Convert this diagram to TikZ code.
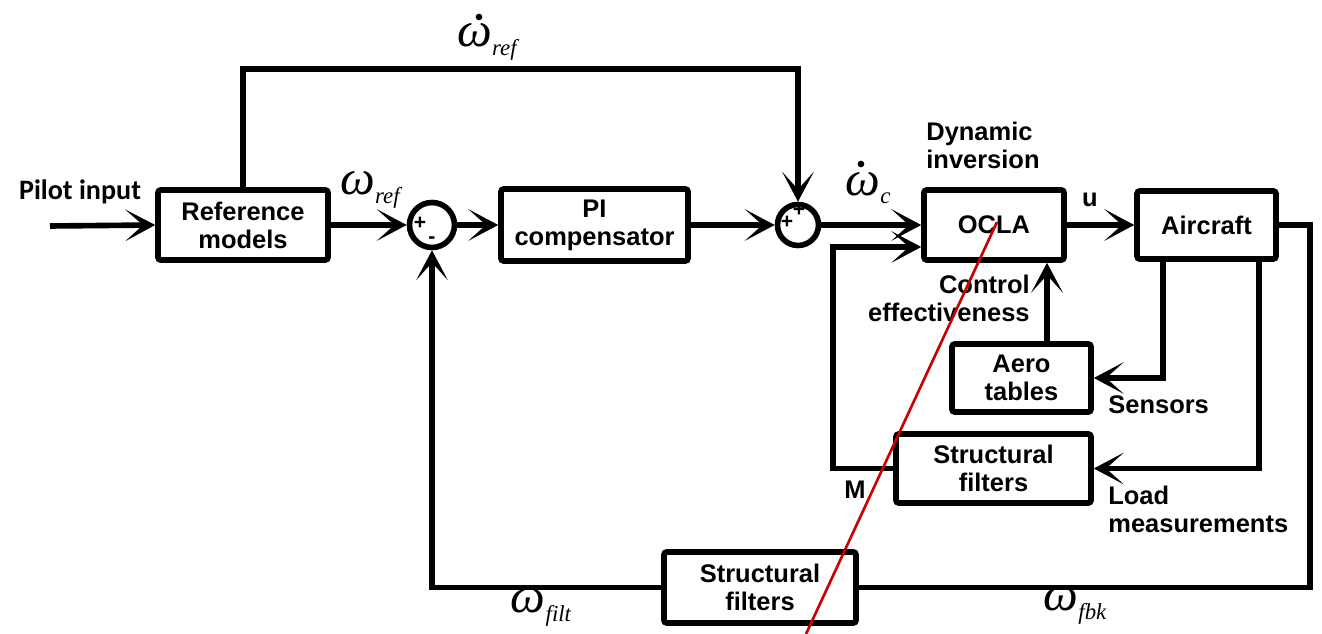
\documentclass[tikz,border=0pt]{standalone}
\usepackage{fontspec}
\setmainfont{Liberation Sans}
\newfontfamily\tnr{Liberation Serif}
\newfontfamily\carl{Carlito}
\usetikzlibrary{arrows.meta,calc}
\newcommand{\omsub}[1]{\raisebox{-5pt}{\tnr\itshape\fontsize{13}{13}\selectfont #1}}
\newcommand{\omg}[1]{{\tnr\itshape\fontsize{28}{28}\selectfont ω}\omsub{#1}}
\begin{document}
\begin{tikzpicture}[x=0.02cm,y=-0.02cm,
  blk/.style={draw,line width=3.2pt,rounded corners=1.5pt,align=center,
    font=\bfseries\fontsize{14.5}{16}\selectfont,inner sep=2pt},
  sumc/.style={draw,circle,line width=3.2pt,inner sep=0pt,fill=white},
  arr/.style={line width=3.2pt,-{Stealth[length=17pt,width=18pt,inset=10pt]}},
  ln/.style={line width=3.2pt},
  lbl/.style={font=\bfseries\fontsize{14.5}{16}\selectfont,inner sep=0pt,align=center},
  sgn/.style={font=\bfseries\fontsize{12}{12}\selectfont,inner sep=0pt},
  omdot/.style={fill=black}]
\useasboundingbox (0,0) rectangle (1322,634);
\fill[white] (0,0) rectangle (1322,634);

% blocks
\node[blk,minimum width=3.4cm,minimum height=1.4cm] (ref) at (243,225) {Reference\\models};
\node[blk,minimum width=3.74cm,minimum height=1.44cm] (pi) at (594.5,225) {PI\\compensator};
\node[blk,minimum width=2.8cm,minimum height=1.4cm] (ocla) at (994,225) {OCLA};
\node[blk,minimum width=2.78cm,minimum height=1.36cm] (ac) at (1206.5,225) {Aircraft};
\node[blk,minimum width=2.78cm,minimum height=1.36cm] (aero) at (1021.5,378) {Aero\\tables};
\node[blk,minimum width=3.9cm,minimum height=1.38cm] (sfm) at (993.5,468.5) {Structural\\filters};
\node[blk,minimum width=3.84cm,minimum height=1.42cm] (sfb) at (760,587.5) {Structural\\filters};
\node[sumc,minimum size=0.9cm] (s1) at (432,225) {};
\node[sumc,minimum size=0.82cm] (s2) at (798,225) {};

% helper coordinates
\coordinate (pin) at (50,226);
\coordinate (topy) at (0,69);
\coordinate (mx) at (833,0);
\coordinate (ax) at (1047,0);
\coordinate (sx) at (1163,0);
\coordinate (lx) at (1259,0);
\coordinate (rx) at (1310,0);
\coordinate (oin2) at ($(ocla.west)+(0,22)$);
\coordinate (r1) at (997,222);
\coordinate (r2) at (806,634);

% connectors
\draw[arr] (pin) -- (ref.west);
\draw[arr] (ref.east) -- (s1.west);
\draw[arr] (s1.east) -- (pi.west);
\draw[arr] (pi.east) -- (s2.west);
\draw[arr] (ref.north) -- (ref.north |- topy) -- (s2.north |- topy) -- (s2.north);
\draw[arr] (s2.east) -- (ocla.west);
\draw[arr] (sfm.west) -- (sfm.west -| mx) -- (mx |- oin2) -- (oin2);
\draw[arr] (ocla.east) -- (ac.west);
\draw[arr] (aero.north -| ax) -- (ocla.south -| ax);
\draw[arr] (ac.south -| sx) |- (aero.east);
\draw[arr] (ac.south -| lx) |- (sfm.east);
\draw[ln] (ac.east) -- (ac.east -| rx) -- (rx |- sfb.east) -- (sfb.east);
\draw[arr] (sfb.west) -| (s1.south);

% signs
\node[sgn] (p1) at (420,223) {+};
\node[sgn] (m1) at (432,240) {-};
\node[sgn] (p2) at (787,222) {+};
\node[sgn] (p3) at (799,210) {+};

% labels
\node[inner sep=0pt,font=\carl\bfseries\fontsize{16}{16}\selectfont] (pilot) at (80,192) {Pilot input};
\node[inner sep=0pt] (lwdr) at (487,42) {\omg{ref}};
\fill[omdot] (479,17) circle (1.9pt);
\node[inner sep=0pt] (lwr) at (370,190) {\omg{ref}};
\node[inner sep=0pt] (lwdc) at (868,188) {\omg{c}};
\fill[omdot] (861,164) circle (1.9pt);
\node[lbl,align=left,anchor=west] (dyn) at (926,145) {Dynamic\\inversion};
\node[lbl] (lu) at (1090,200) {u};
\node[lbl,align=right,anchor=east] (ce) at (1030,298) {Control\\effectiveness};
\node[lbl,anchor=west] (sens) at (1108,405) {Sensors};
\node[lbl,align=left,anchor=west] (load) at (1108,509) {Load\\measurements};
\node[lbl] (lm) at (855,490) {M};
\node[inner sep=0pt] (lwf) at (541,608) {\omg{filt}};
\node[inner sep=0pt] (lwb) at (1075,606) {\omg{fbk}};

% red annotation line
\draw[line width=1.5pt,color={rgb,255:red,200;green,0;blue,0}] (r1) -- (r2);
\end{tikzpicture}
\end{document}
